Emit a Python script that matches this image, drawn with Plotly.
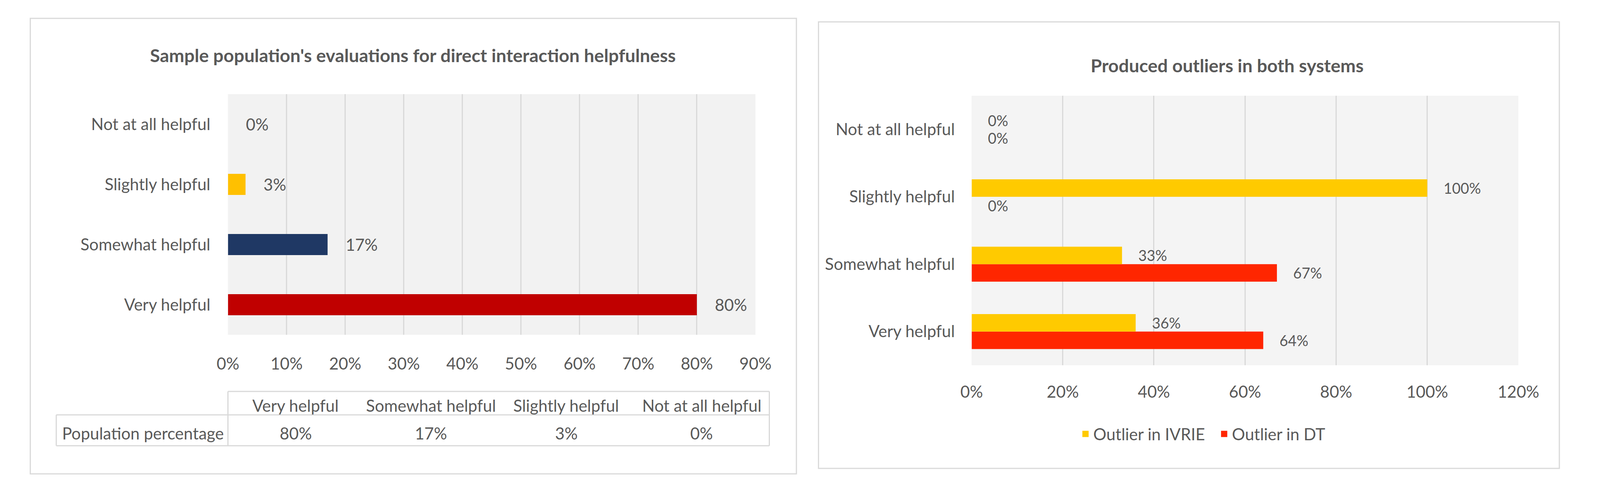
import plotly.graph_objects as go

# The photographed area is narrower than the window; the figure is laid out so that
# its proportions match the reference inside the captured area.
FW, FH = 4088, 1254
SX = 4096 / 4402.0

# ---- data ----
categories = ["Very helpful", "Somewhat helpful", "Slightly helpful", "Not at all helpful"]
population_pct = [0.80, 0.17, 0.03, 0.00]
left_colors = ["#C00000", "#1F3864", "#FFC000", "#FFC000"]

outlier_ivrie = [0.36, 0.33, 1.00, 0.00]
outlier_dt = [0.64, 0.67, 0.00, 0.00]
series_names = ["Outlier in IVRIE", "Outlier in DT"]
series_colors = ["#FFCA00", "#FF2600"]

left_title = "Sample population's evaluations for direct interaction helpfulness"
right_title = "Produced outliers in both systems"
table_row_label = "Population percentage"

FONT = "Lato"
TXT = "#595959"
FS = 42
TFS = 46.5
GRID = "#D9D9D9"
PAD = "\u00a0" * 4


def px(x):
    """reference x pixel -> paper fraction"""
    return (x * SX - 8) / FW


def py(y):
    """reference y pixel -> paper fraction"""
    return 1 - (y - 8) / FH


fig = go.Figure()

fig.add_trace(go.Bar(
    y=categories, x=population_pct, orientation="h",
    marker=dict(color=left_colors, line=dict(width=0)),
    width=0.35,
    texttemplate=PAD + "%{x:.0%}", textposition="outside",
    textfont=dict(family=FONT, size=FS, color=TXT),
    cliponaxis=False, showlegend=False,
    xaxis="x", yaxis="y",
))

fig.add_trace(go.Bar(
    y=categories, x=outlier_dt, orientation="h", name=series_names[1],
    marker=dict(color=series_colors[1], line=dict(width=0)),
    width=0.26, offset=-0.26,
    texttemplate=PAD + "%{x:.0%}", textposition="outside",
    textfont=dict(family=FONT, size=FS, color=TXT),
    cliponaxis=False, showlegend=False, xaxis="x2", yaxis="y2",
))
fig.add_trace(go.Bar(
    y=categories, x=outlier_ivrie, orientation="h", name=series_names[0],
    marker=dict(color=series_colors[0], line=dict(width=0)),
    width=0.26, offset=0.0,
    texttemplate=PAD + "%{x:.0%}", textposition="outside",
    textfont=dict(family=FONT, size=FS, color=TXT),
    cliponaxis=False, showlegend=False, xaxis="x2", yaxis="y2",
))
# legend entries
for name, col in zip(series_names, series_colors):
    fig.add_trace(go.Scatter(
        x=[None], y=[None], mode="markers", name=name,
        marker=dict(symbol="square", size=22, color=col),
        xaxis="x2", yaxis="y2", showlegend=True,
    ))

axis_font = dict(family=FONT, size=FS, color=TXT)

shapes = []
shapes.append(dict(type="rect", xref="paper", yref="paper",
                   x0=px(53), x1=px(2204), y0=py(1213), y1=py(47),
                   line=dict(color=GRID, width=3), fillcolor="rgba(0,0,0,0)", layer="below"))
shapes.append(dict(type="rect", xref="paper", yref="paper",
                   x0=px(2266), x1=px(4346), y0=py(1199), y1=py(56),
                   line=dict(color=GRID, width=3), fillcolor="rgba(0,0,0,0)", layer="below"))
shapes.append(dict(type="rect", xref="x2 domain", yref="y2 domain", x0=0, x1=1, y0=0, y1=1,
                   line=dict(width=0), fillcolor="#F4F4F4", layer="below"))

tl = dict(color=GRID, width=3)
T_left, T_col, T_right = 126, 608, 2128
T_top, T_mid, T_bot = 1002, 1062, 1141
for (x0, y0, x1, y1) in [
    (T_col, T_top, T_right, T_top),
    (T_left, T_mid, T_right, T_mid),
    (T_left, T_bot, T_right, T_bot),
    (T_col, T_top, T_col, T_bot),
    (T_right, T_top, T_right, T_bot),
    (T_left, T_mid, T_left, T_bot),
]:
    shapes.append(dict(type="line", xref="paper", yref="paper",
                       x0=px(x0), x1=px(x1), y0=py(y0), y1=py(y1), line=tl))

annotations = []
annotations.append(dict(text=f"<b>{left_title}</b>", xref="paper", yref="paper",
                        x=px(1127), y=py(141), showarrow=False,
                        font=dict(family=FONT, size=TFS, color=TXT),
                        xanchor="center", yanchor="middle"))
annotations.append(dict(text=f"<b>{right_title}</b>", xref="paper", yref="paper",
                        x=px(3413), y=py(167), showarrow=False,
                        font=dict(family=FONT, size=TFS, color=TXT),
                        xanchor="center", yanchor="middle"))

colw = (T_right - T_col) / len(categories)
for i, (c, v) in enumerate(zip(categories, population_pct)):
    cx = T_col + colw * (i + 0.5)
    annotations.append(dict(text=c, xref="paper", yref="paper", x=px(cx), y=py(1038),
                            showarrow=False, font=axis_font, xanchor="center", yanchor="middle"))
    annotations.append(dict(text=f"{v:.0%}", xref="paper", yref="paper", x=px(cx), y=py(1109),
                            showarrow=False, font=axis_font, xanchor="center", yanchor="middle"))
annotations.append(dict(text=table_row_label, xref="paper", yref="paper", x=px(140), y=py(1109),
                        showarrow=False, font=axis_font, xanchor="left", yanchor="middle"))

fig.update_layout(
    width=FW, height=FH, autosize=False,
    margin=dict(l=0, r=0, t=0, b=0),
    paper_bgcolor="white", plot_bgcolor="#F2F2F2",
    barmode="overlay",
    font=dict(family=FONT, color=TXT, size=FS),
    xaxis=dict(domain=[px(608), px(2089)], range=[0, 0.9], dtick=0.1, tickformat=".0%",
               showgrid=True, gridcolor=GRID, gridwidth=3, zeroline=False, showline=False,
               tickfont=axis_font, ticks="", ticklabelstandoff=46, anchor="y"),
    yaxis=dict(domain=[py(857), py(241)], range=[-0.5, 3.5], type="category",
               categoryorder="array", categoryarray=categories,
               showgrid=False, zeroline=False, showline=False, tickfont=axis_font,
               ticks="", ticklabelstandoff=44, anchor="x"),
    xaxis2=dict(domain=[px(2696), px(4231)], range=[0, 1.2], dtick=0.2, tickformat=".0%",
                showgrid=True, gridcolor=GRID, gridwidth=3, zeroline=False, showline=False,
                tickfont=axis_font, ticks="", ticklabelstandoff=40, anchor="y2"),
    yaxis2=dict(domain=[py(935), py(245)], range=[-0.5, 3.5], type="category",
                categoryorder="array", categoryarray=categories,
                showgrid=False, zeroline=False, showline=False, tickfont=axis_font,
                ticks="", ticklabelstandoff=42, anchor="x2"),
    legend=dict(orientation="h", x=px(3383), y=py(1111), xanchor="center", yanchor="middle",
                font=axis_font, bgcolor="rgba(0,0,0,0)", itemsizing="trace",
                itemwidth=30, tracegroupgap=0, entrywidth=310, entrywidthmode="pixels"),
    shapes=shapes, annotations=annotations,
)

fig.write_html("out.html")
